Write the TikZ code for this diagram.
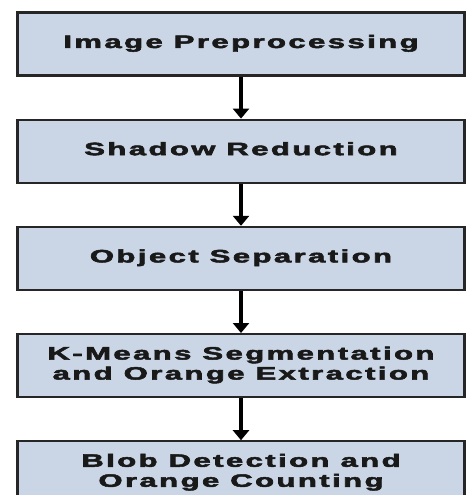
\documentclass[tikz,border=0pt]{standalone}
\usepackage{fontspec}
\usepackage{graphicx}
\newfontfamily\stagefont{Liberation Sans}[LetterSpace=8, BoldFeatures={FakeBold=2.5, LetterSpace=8}]
\usetikzlibrary{positioning,arrows.meta}

% wide bold lettering of the stages
\newcommand{\stagetext}[1]{\scalebox{1.72}[1]{\begin{tabular}{@{}c@{}}#1\end{tabular}}}

\tikzset{
  stage/.style={draw=black!85, line width=2.2pt, fill=stagefill, minimum width=447pt,
    minimum height=63pt, align=center, font=\stagefont\bfseries\fontsize{18}{20}\selectfont,
    text=black!90},
  flow/.style={line width=3.6pt, -{Triangle[width=16pt,length=10pt]}}
}
\definecolor{stagefill}{RGB}{202,214,229}

\begin{document}
\begin{tikzpicture}[x=1pt, y=1pt, node distance=42pt]

\useasboundingbox (0,0) rectangle (466,-495);

\node [stage] (prep) at (241,-44) {\stagetext{Image Preprocessing}};
\node [stage, below=of prep] (shadow) {\stagetext{Shadow Reduction}};
\node [stage, below=of shadow] (sep) {\stagetext{Object Separation}};
\node [stage, below=of sep] (kmeans) {\stagetext{K-Means Segmentation\\and Orange Extraction}};
\node [stage, below=of kmeans] (blob) {\stagetext{Blob Detection and\\Orange Counting}};

\draw [flow] (prep) -- (shadow);
\draw [flow] (shadow) -- (sep);
\draw [flow] (sep) -- (kmeans);
\draw [flow] (kmeans) -- (blob);

\end{tikzpicture}
\end{document}
